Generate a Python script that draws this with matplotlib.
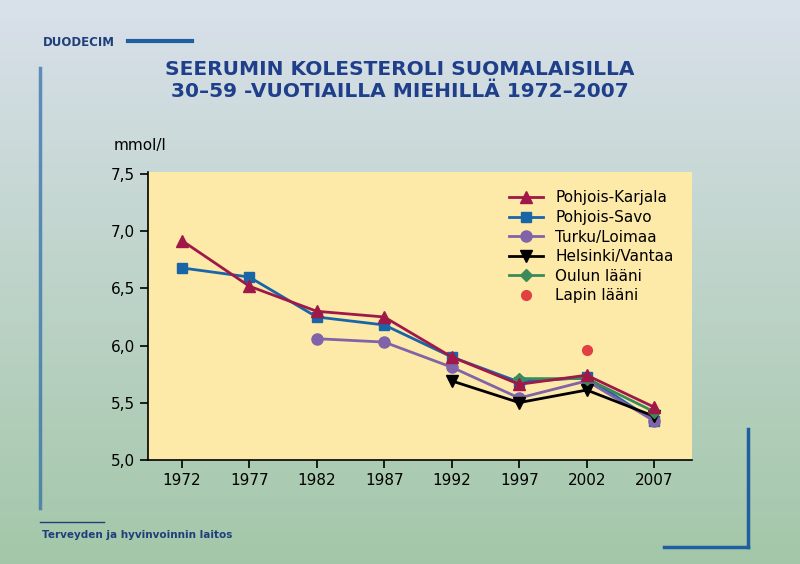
import numpy as np
import matplotlib
matplotlib.use("Agg")
import matplotlib.pyplot as plt

years = [1972, 1977, 1982, 1987, 1992, 1997, 2002, 2007]
nan = np.nan
pohjois_karjala = [6.92, 6.52, 6.30, 6.25, 5.90, 5.66, 5.74, 5.46]
pohjois_savo = [6.68, 6.60, 6.25, 6.18, 5.90, 5.68, 5.72, 5.34]
turku_loimaa = [nan, nan, 6.06, 6.03, 5.81, 5.54, 5.69, 5.34]
helsinki_vantaa = [nan, nan, nan, nan, 5.69, 5.50, 5.61, 5.38]
oulun_laani = [nan, nan, nan, nan, nan, 5.71, 5.71, 5.42]
lapin_laani = [nan, nan, nan, nan, nan, nan, 5.96, nan]
yticks = [5.0, 5.5, 6.0, 6.5, 7.0, 7.5]
ytick_labels = ["5,0", "5,5", "6,0", "6,5", "7,0", "7,5"]

fig = plt.figure(figsize=(8, 5.64), dpi=100)
bg = fig.add_axes([0, 0, 1, 1], zorder=-10)
grad = np.linspace(0, 1, 256)[:, None]
top = np.array([0.85, 0.88, 0.92]); bot = np.array([0.64, 0.78, 0.66])
img = top[None, None, :] * (1 - grad[..., None]) + bot[None, None, :] * grad[..., None]
bg.imshow(img, aspect="auto", extent=[0, 1, 0, 1])
bg.set_xlim(0, 1); bg.set_ylim(0, 1); bg.axis("off")
bg.plot([0.16, 0.24], [0.927, 0.927], color="#1f5fa0", lw=3)
bg.plot([0.05, 0.05], [0.10, 0.88], color="#2a6aa8", lw=2.5, alpha=0.7)
bg.plot([0.935, 0.935], [0.03, 0.24], color="#1f5fa0", lw=2.5)
bg.plot([0.83, 0.935], [0.03, 0.03], color="#1f5fa0", lw=2.5)
bg.plot([0.05, 0.13], [0.075, 0.075], color="#1f3f7a", lw=1)

fig.text(0.053, 0.924, "DUODECIM", color="#1f3f7a", fontsize=8.5, fontweight="bold", va="center")
fig.text(0.5, 0.858, "SEERUMIN KOLESTEROLI SUOMALAISILLA\n30–59 -VUOTIAILLA MIEHILLÄ 1972–2007",
         ha="center", va="center", color="#1f3f8a", fontsize=14.5, fontweight="bold",
         linespacing=1.2)
fig.text(0.053, 0.052, "Terveyden ja hyvinvoinnin laitos", color="#1f3f7a", fontsize=7.5, fontweight="bold", va="center")
fig.text(0.142, 0.742, "mmol/l", fontsize=11, va="center")

ax = fig.add_axes([0.185, 0.185, 0.68, 0.51])
ax.set_facecolor("#fdeaa8")
ax.plot(years, pohjois_savo, color="#1a64a8", marker="s", ms=7, lw=2, label="Pohjois-Savo")
ax.plot(years, turku_loimaa, color="#8063a8", marker="o", ms=8, lw=2, label="Turku/Loimaa")
ax.plot(years, helsinki_vantaa, color="black", marker="v", ms=8, lw=2, label="Helsinki/Vantaa")
ax.plot(years, oulun_laani, color="#3a8a5a", marker="D", ms=6, lw=2, label="Oulun lääni")
ax.plot(years, pohjois_karjala, color="#a01848", marker="^", ms=8, lw=2, label="Pohjois-Karjala")
ax.plot(years, lapin_laani, color="#e04040", marker="o", ms=7, lw=0, label="Lapin lääni")
h, l = ax.get_legend_handles_labels()
order = [4, 0, 1, 2, 3, 5]
ax.legend([h[i] for i in order], [l[i] for i in order], loc="upper right", frameon=False,
          fontsize=11, handlelength=2.2, labelspacing=0.3, borderaxespad=0.8)
ax.set_xlim(1969.5, 2009.8)
ax.set_ylim(5.0, 7.52)
ax.set_yticks(yticks)
ax.set_yticklabels(ytick_labels)
ax.set_xticks(years)
ax.tick_params(labelsize=11, length=6, width=1.2)
for s in ["top", "right"]:
    ax.spines[s].set_visible(False)
for s in ["left", "bottom"]:
    ax.spines[s].set_linewidth(1.2)
fig.savefig("out.png", dpi=100)
